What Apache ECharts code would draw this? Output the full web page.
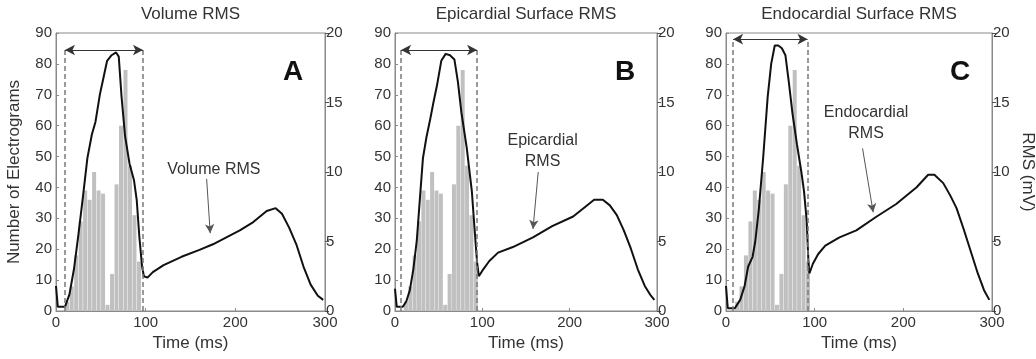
<!DOCTYPE html>
<html>
<head>
<meta charset="utf-8">
<script src="https://cdn.jsdelivr.net/npm/echarts@6/dist/echarts.min.js"></script>
<style>
html, body { margin: 0; padding: 0; background: #fff; }
#chart { width: 1036px; height: 359px; }
</style>
</head>
<body>
<div id="chart"></div>
<script>
// activation-time histogram (5 ms bins), same electrograms in all three panels
var binCentres = [12.5, 17.5, 22.5, 27.5, 32.5, 37.5, 42.5, 47.5, 52.5, 57.5, 62.5, 67.5, 72.5, 77.5, 82.5, 87.5, 92.5];
var electrogramCounts = [3, 8, 18, 29, 39, 36, 45, 39, 38, 2, 12, 41, 60, 78, 47, 31, 16];

// RMS curves, [time ms, mV]
var volumeRms = [[0, 1.8], [2, 0.3], [10, 0.3], [15, 1.2], [20, 3.0], [25, 5.5], [30, 8.2], [35, 11.0], [40, 12.7], [44, 13.6],
    [49, 15.6], [53, 16.8], [57, 18.0], [62, 18.4], [67, 18.6], [70, 18.3], [73, 15.5], [77, 12.6], [82, 10.6], [87, 9.4],
    [90, 8.0], [93, 5.3], [96, 3.2], [98, 2.5], [102, 2.4], [108, 2.8], [120, 3.3], [140, 3.9], [160, 4.4], [175, 4.8],
    [190, 5.3], [205, 5.8], [220, 6.4], [235, 7.2], [245, 7.4], [252, 7.0], [260, 6.0], [268, 4.8], [276, 3.2], [284, 1.9],
    [292, 1.1], [298, 0.8]];
var epicardialRms = [[0, 1.6], [2, 0.3], [9, 0.3], [13, 0.7], [17, 1.5], [21, 3.0], [25, 5.1], [29, 8.5], [32, 11.0], [36, 12.5],
    [40, 13.7], [44, 15.0], [48, 16.2], [53, 18.0], [58, 18.5], [63, 18.4], [68, 18.1], [72, 16.5], [76, 14.3], [82, 11.8],
    [88, 8.6], [91, 6.0], [94, 3.5], [96, 2.5], [100, 2.9], [108, 3.6], [118, 4.2], [135, 4.6], [158, 5.3], [180, 6.1],
    [204, 6.8], [218, 7.5], [228, 8.0], [238, 8.0], [246, 7.6], [254, 6.9], [262, 5.8], [270, 4.5], [278, 3.0], [286, 1.8],
    [293, 1.1], [297, 0.8]];
var endocardialRms = [[0, 1.8], [2, 0.2], [10, 0.2], [16, 0.8], [21, 1.8], [25, 3.2], [30, 3.9], [33, 5.0], [37, 7.3], [42, 11.1],
    [47, 15.4], [51, 17.8], [55, 19.1], [59, 19.1], [63, 18.9], [67, 18.4], [71, 16.4], [75, 14.2], [80, 12.0], [85, 10.0],
    [88, 8.6], [91, 6.5], [93, 3.5], [94, 2.7], [98, 3.4], [104, 4.1], [112, 4.7], [128, 5.3], [147, 5.8], [170, 6.8],
    [192, 7.7], [215, 8.9], [228, 9.8], [235, 9.8], [245, 9.2], [253, 8.3], [260, 7.4], [268, 5.9], [276, 4.3], [284, 2.7],
    [291, 1.5], [297, 0.8]];

var panelTitles = ['Volume RMS', 'Epicardial Surface RMS', 'Endocardial Surface RMS'];
var panelLetters = ['A', 'B', 'C'];
var rmsCurves = [volumeRms, epicardialRms, endocardialRms];
var windowStart = [10, 7, 8];      // ms
var windowEnd = [97, 94, 92];      // ms
var windowLevel = [84.5, 84.5, 88]; // electrogram count at the arrow
var noteText = ['Volume RMS', 'Epicardial\nRMS', 'Endocardial\nRMS'];
var noteAt = [[176, 10.15], [169, 11.5], [158, 13.5]];        // [ms, mV]
var noteArrowFrom = [[168, 9.5], [164, 10.0], [154, 11.7]];
var noteArrowTo = [[172, 5.6], [158, 5.9], [166, 7.1]];

var FONT = 'Liberation Sans, Arial, sans-serif';
var TEXT = '#333';
var AXIS = '#8a8a8a';

var grids = [
    {left: 56, top: 33, width: 269, height: 278},
    {left: 395, top: 33, width: 262, height: 278},
    {left: 726, top: 33, width: 266, height: 278}
];

function axisLabelStyle() {
    return {color: TEXT, fontSize: 15, fontFamily: FONT};
}

function buildOption() {
    var option = {
        animation: false,
        backgroundColor: '#fff',
        title: [],
        grid: [],
        xAxis: [],
        yAxis: [],
        series: []
    };
    for (var i = 0; i < 3; i++) {
        var g = grids[i];
        option.grid.push({
            left: g.left, top: g.top, width: g.width, height: g.height,
            show: true, borderColor: AXIS, borderWidth: 1,
            outerBoundsMode: 'none'
        });
        option.title.push({
            text: panelTitles[i],
            left: g.left + g.width / 2, top: 6, textAlign: 'center', padding: 0,
            textStyle: {fontSize: 17, fontWeight: 'normal', color: TEXT, fontFamily: FONT}
        });
        option.title.push({
            text: panelLetters[i],
            left: g.left + g.width - 32, top: 58, textAlign: 'center', padding: 0,
            textStyle: {fontSize: 28, fontWeight: 'bold', color: '#111', fontFamily: FONT}
        });
        option.xAxis.push({
            type: 'value', gridIndex: i, min: 0, max: 300, interval: 100,
            name: 'Time (ms)', nameLocation: 'middle', nameGap: 21,
            nameTextStyle: {color: TEXT, fontSize: 17, fontFamily: FONT},
            axisLine: {lineStyle: {color: AXIS}},
            axisTick: {inside: true, length: 3, lineStyle: {color: AXIS}},
            axisLabel: Object.assign(axisLabelStyle(), {margin: 4}),
            splitLine: {show: false}
        });
        option.yAxis.push({
            type: 'value', gridIndex: i, position: 'left', min: 0, max: 90, interval: 10,
            name: i === 0 ? 'Number of Electrograms' : '', nameLocation: 'middle', nameGap: 33, nameRotate: 90,
            nameTextStyle: {color: TEXT, fontSize: 17, fontFamily: FONT},
            axisLine: {show: true, lineStyle: {color: AXIS}},
            axisTick: {inside: true, length: 3, lineStyle: {color: AXIS}},
            axisLabel: Object.assign(axisLabelStyle(), {margin: 4}),
            splitLine: {show: false}
        });
        option.yAxis.push({
            type: 'value', gridIndex: i, position: 'right', min: 0, max: 20, interval: 5,
            name: i === 2 ? 'RMS (mV)' : '', nameLocation: 'middle', nameGap: 27, nameRotate: -90,
            nameTextStyle: {color: TEXT, fontSize: 17, fontFamily: FONT},
            axisLine: {show: true, lineStyle: {color: AXIS}},
            axisTick: {inside: false, length: 4, lineStyle: {color: '#555'}},
            axisLabel: Object.assign(axisLabelStyle(), {margin: 1}),
            splitLine: {show: false}
        });

        var bars = binCentres.map(function (t, k) { return [t, electrogramCounts[k]]; });
        option.series.push({
            type: 'bar', xAxisIndex: i, yAxisIndex: 2 * i,
            data: bars, barWidth: 4, barGap: '0%',
            itemStyle: {color: '#c0c0c0'},
            markLine: {
                silent: true, animation: false, symbolSize: [8, 10],
                label: {show: false},
                data: [
                    [{coord: [windowStart[i], 0], symbol: 'none', lineStyle: {type: [5, 3], color: '#7a7a7a', width: 1.5}},
                     {coord: [windowStart[i], windowLevel[i]], symbol: 'none'}],
                    [{coord: [windowEnd[i], 0], symbol: 'none', lineStyle: {type: [5, 3], color: '#7a7a7a', width: 1.5}},
                     {coord: [windowEnd[i], windowLevel[i]], symbol: 'none'}],
                    [{coord: [windowStart[i], windowLevel[i]], symbol: 'arrow', lineStyle: {type: 'solid', color: '#333', width: 1}},
                     {coord: [windowEnd[i], windowLevel[i]], symbol: 'arrow'}]
                ]
            }
        });
        option.series.push({
            type: 'line', xAxisIndex: i, yAxisIndex: 2 * i + 1,
            data: rmsCurves[i], symbol: 'none', smooth: false,
            lineStyle: {color: '#111', width: 2},
            markLine: {
                silent: true, animation: false, symbolSize: [7, 9],
                label: {show: false},
                lineStyle: {type: 'solid', color: '#555', width: 1},
                data: [[{coord: noteArrowFrom[i], symbol: 'none'}, {coord: noteArrowTo[i], symbol: 'arrow'}]]
            },
            markPoint: {
                silent: true, animation: false,
                data: [{
                    coord: noteAt[i], symbol: 'rect', symbolSize: 1,
                    itemStyle: {color: 'rgba(0,0,0,0)'},
                    label: {show: true, position: 'inside', formatter: noteText[i], color: TEXT,
                        fontSize: 16, lineHeight: 21, fontFamily: FONT}
                }]
            }
        });
    }
    return option;
}

var chart = echarts.init(document.getElementById('chart'));
chart.setOption(buildOption());
</script>
</body>
</html>
